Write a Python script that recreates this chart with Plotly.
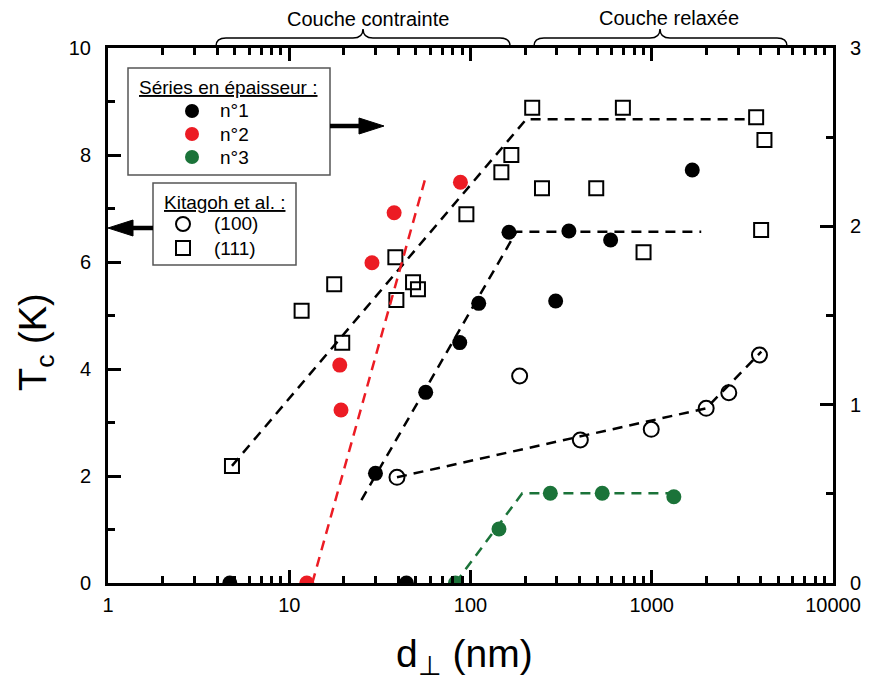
import plotly.graph_objects as go

# ---------------- data ----------------
# Séries en épaisseur (right axis, 0-3)
n1_d = [4.7, 44.3, 29.9, 56.6, 87.2, 111, 163, 349, 295, 593, 1673]
n1_tc = [0.0, 0.0, 0.615, 1.069, 1.348, 1.568, 1.967, 1.974, 1.581, 1.923, 2.316]
n2_d = [12.5, 19.3, 19.0, 28.6, 37.9, 88.0]
n2_tc = [0.0, 0.970, 1.222, 1.796, 2.076, 2.247]
n3_d = [82.6, 143.6, 275.7, 533, 1324]
n3_tc = [0.0, 0.303, 0.503, 0.503, 0.484]

# Kitagoh et al. (left axis, 0-10)
k100_d = [39.3, 186.7, 403.6, 993.6, 1997, 2661, 3930]
k100_tc = [1.976, 3.869, 2.673, 2.873, 3.265, 3.557, 4.262]
k111_d = [4.83, 11.7, 17.7, 19.6, 38.5, 39.0, 48.2, 51.3, 94.9, 148, 168, 219, 248, 494, 693, 901, 3767, 4186, 4013]
k111_tc = [2.187, 5.090, 5.583, 4.492, 6.088, 5.290, 5.621, 5.490, 6.892, 7.677, 8.000, 8.884, 7.378, 7.378, 8.884, 6.181, 8.705, 8.280, 6.598]

# guide lines
fit111_d = [4.83, 203, 3461]
fit111_tc = [2.19, 8.667, 8.667]
fit100_d = [39.3, 1997, 4024]
fit100_tc = [1.976, 3.265, 4.323]
fitn1_d = [25.0, 179, 1875]
fitn1_tc = [0.465, 1.97, 1.97]
fitn2_d = [13.4, 57.2]
fitn2_tc = [0.0, 2.293]
fitn3_d = [82.6, 193, 1324]
fitn3_tc = [0.0, 0.503, 0.503]

x_ticks = [1, 10, 100, 1000, 10000]
x_ticklabels = ["1", "10", "100", "1000", "10000"]

RED = "#ec1c24"
GREEN = "#1b7339"
FONT = "Liberation Sans, Arial, sans-serif"

fig = go.Figure()

DASH = "10px,7px"
def dline(x, y, color, axis):
    fig.add_trace(go.Scatter(x=x, y=y, mode="lines", yaxis=axis,
                             line=dict(color=color, width=2.5, dash=DASH),
                             showlegend=False, hoverinfo="skip"))

dline(fit111_d, fit111_tc, "black", "y")
dline(fit100_d, fit100_tc, "black", "y")
dline(fitn1_d, fitn1_tc, "black", "y2")
dline(fitn2_d, fitn2_tc, RED, "y2")
dline(fitn3_d, fitn3_tc, GREEN, "y2")

fig.add_trace(go.Scatter(x=k111_d, y=k111_tc, mode="markers", yaxis="y",
                         marker=dict(symbol="square-open", size=14, color="black", line=dict(width=2)),
                         showlegend=False))
fig.add_trace(go.Scatter(x=k100_d, y=k100_tc, mode="markers", yaxis="y",
                         marker=dict(symbol="circle-open", size=15, color="black", line=dict(width=2)),
                         showlegend=False))
for xs, ys, c in [(n1_d, n1_tc, "black"), (n2_d, n2_tc, RED), (n3_d, n3_tc, GREEN)]:
    fig.add_trace(go.Scatter(x=xs, y=ys, mode="markers", yaxis="y2",
                             marker=dict(symbol="circle", size=15, color=c, line=dict(width=0)),
                             showlegend=False))

# ---------------- layout helpers ----------------
# page body adds an 8px offset, so the figure is 8px smaller and shifted
OFF = 8
W, H = 873 - OFF, 684 - OFF
L, R, T, B = 108, 833, 48, 583   # plot area in screen pixels
def px(x):
    return (x - L) / (R - L)
def py(y):
    return (B - y) / (B - T)

shapes = []
annotations = []

def box(x0, y0, x1, y1):
    shapes.append(dict(type="rect", xref="paper", yref="paper",
                       x0=px(x0), x1=px(x1), y0=py(y1), y1=py(y0),
                       line=dict(color="#555555", width=1.5), fillcolor="white", layer="above"))

def marker_shape(cx, cy, kind, color, r=7):
    d = dict(xref="paper", yref="paper", xsizemode="pixel", ysizemode="pixel",
             xanchor=px(cx), yanchor=py(cy), x0=-r, x1=r, y0=-r, y1=r, layer="above")
    if kind == "filled":
        d.update(type="circle", fillcolor=color, line=dict(color=color, width=0))
    elif kind == "open":
        d.update(type="circle", fillcolor="rgba(0,0,0,0)", line=dict(color="black", width=2))
    else:
        d.update(type="rect", fillcolor="rgba(0,0,0,0)", line=dict(color="black", width=2))
    shapes.append(d)

def text(x, y, s, size=19, xanchor="center", angle=0):
    annotations.append(dict(x=px(x), y=py(y), xref="paper", yref="paper", text=s,
                            showarrow=False, xanchor=xanchor, yanchor="middle", textangle=angle,
                            font=dict(family=FONT, size=size, color="black")))

box(128, 68, 330, 175)
text(228, 87, "<u>Séries en épaisseur :</u>")
for yy, c, lab in [(111, "black", "n°1"), (134, RED, "n°2"), (157, GREEN, "n°3")]:
    marker_shape(192, yy, "filled", c)
    text(218, yy, lab, xanchor="left")

box(153, 183, 296, 265)
text(224, 202, "<u>Kitagoh et al. :</u>")
marker_shape(183, 224, "open", "black", r=7)
text(212, 224, "(100)", xanchor="left")
marker_shape(183, 248, "square", "black", r=7)
text(212, 248, "(111)", xanchor="left")

# arrows (line + triangular head)
def arrow(x_tail, x_tip, y, head=25, half=8):
    sgn = 1 if x_tip > x_tail else -1
    xb = x_tip - sgn * head
    shapes.append(dict(type="line", xref="paper", yref="paper",
                       x0=px(x_tail), x1=px(xb + sgn * 3), y0=py(y), y1=py(y),
                       line=dict(color="black", width=4.5)))
    p = f"M {px(xb)},{py(y - half)} L {px(x_tip)},{py(y)} L {px(xb)},{py(y + half)} Z"
    shapes.append(dict(type="path", path=p, xref="paper", yref="paper",
                       fillcolor="black", line=dict(color="black", width=1)))

arrow(330, 384, 126)
arrow(153, 108, 228)

# braces
def brace(x0, x1, xm, yb=46, yt=38, ytip=29, r=10):
    p = (f"M {px(x0)},{py(yb)} Q {px(x0)},{py(yt)} {px(x0 + r)},{py(yt)} "
         f"L {px(xm - r)},{py(yt)} Q {px(xm)},{py(yt)} {px(xm)},{py(ytip)} "
         f"Q {px(xm)},{py(yt)} {px(xm + r)},{py(yt)} "
         f"L {px(x1 - r)},{py(yt)} Q {px(x1)},{py(yt)} {px(x1)},{py(yb)}")
    shapes.append(dict(type="path", path=p, xref="paper", yref="paper",
                       line=dict(color="black", width=1.5)))

brace(216, 510, 363)
brace(534, 787, 660)
text(368, 19, "Couche contrainte", size=20)
text(669, 18, "Couche relaxée", size=20)

# axis titles
text(36, 342, "T<sub>c</sub> (K)", size=38, angle=-90)
text(464, 656, "d<sub>⊥</sub> (nm)", size=39)

minor_x = [m * 10 ** e for e in range(0, 4) for m in range(2, 10)]

fig.update_layout(
    width=W, height=H,
    margin=dict(l=L - OFF, r=W - (R - OFF), t=T - OFF, b=H - (B - OFF), autoexpand=False),
    paper_bgcolor="white", plot_bgcolor="white",
    font=dict(family=FONT, color="black"),
    showlegend=False,
    shapes=shapes, annotations=annotations,
    xaxis=dict(type="log", range=[0, 4], showgrid=False, zeroline=False,
               tickmode="array", tickvals=x_ticks, ticktext=x_ticklabels,
               ticks="inside", ticklen=13, tickwidth=2.5, tickcolor="black",
               minor=dict(tickmode="array", tickvals=minor_x, ticks="inside",
                          ticklen=7, tickwidth=2.5, tickcolor="black", showgrid=False),
               showline=True, linewidth=3, linecolor="black", mirror="ticks",
               tickfont=dict(size=20), ticklabelstandoff=2),
    yaxis=dict(range=[0, 10], showgrid=False, zeroline=False,
               tickmode="linear", tick0=0, dtick=2,
               ticks="inside", ticklen=13, tickwidth=2.5, tickcolor="black",
               minor=dict(dtick=1, ticks="inside", ticklen=7, tickwidth=2.5,
                          tickcolor="black", showgrid=False),
               showline=True, linewidth=3, linecolor="black", mirror=False,
               tickfont=dict(size=20), ticklabelstandoff=10),
    yaxis2=dict(range=[0, 3], overlaying="y", side="right", showgrid=False, zeroline=False,
                tickmode="linear", tick0=0, dtick=1,
                ticks="inside", ticklen=13, tickwidth=2.5, tickcolor="black",
                minor=dict(dtick=0.5, ticks="inside", ticklen=7, tickwidth=2.5,
                           tickcolor="black", showgrid=False),
                showline=True, linewidth=3, linecolor="black",
                tickfont=dict(size=20), ticklabelstandoff=10),
)

fig.write_html("out.html")
